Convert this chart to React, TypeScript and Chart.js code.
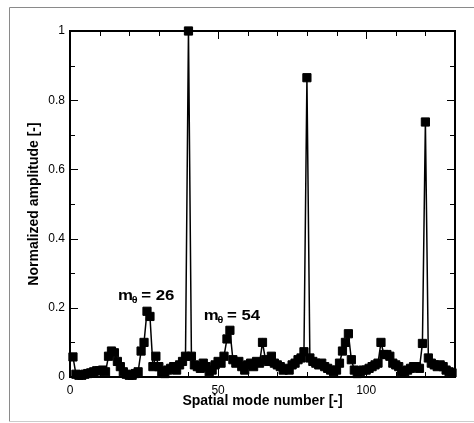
import React, { useEffect, useRef } from 'react';
import { Chart, registerables } from 'chart.js';

Chart.register(...registerables);

// Spatial mode numbers 1..129
const modes: number[] = Array.from({ length: 129 }, (_, i) => i + 1);

// Normalized amplitude for each mode
const amplitudes: number[] = [
  0.058, 0.008, 0.005, 0.005, 0.008, 0.010, 0.012, 0.015, 0.018, 0.018,
  0.020, 0.015, 0.060, 0.075, 0.070, 0.045, 0.030, 0.015, 0.008, 0.005,
  0.005, 0.010, 0.015, 0.075, 0.100, 0.190, 0.175, 0.030, 0.060, 0.030,
  0.015, 0.010, 0.020, 0.025, 0.030, 0.020, 0.035, 0.045, 0.060, 1.000,
  0.060, 0.035, 0.030, 0.025, 0.040, 0.030, 0.015, 0.020, 0.035, 0.045,
  0.040, 0.060, 0.110, 0.135, 0.050, 0.040, 0.045, 0.030, 0.020, 0.035,
  0.040, 0.030, 0.045, 0.040, 0.100, 0.050, 0.045, 0.060, 0.040, 0.035,
  0.030, 0.020, 0.025, 0.020, 0.035, 0.040, 0.050, 0.055, 0.073, 0.865,
  0.055, 0.045, 0.040, 0.035, 0.040, 0.030, 0.025, 0.020, 0.015, 0.020,
  0.040, 0.075, 0.100, 0.125, 0.050, 0.020, 0.010, 0.015, 0.020, 0.020,
  0.025, 0.030, 0.035, 0.040, 0.100, 0.065, 0.065, 0.060, 0.040, 0.035,
  0.030, 0.015, 0.015, 0.020, 0.025, 0.030, 0.030, 0.025, 0.097, 0.737,
  0.055, 0.040, 0.035, 0.030, 0.035, 0.030, 0.020, 0.015, 0.012,
];

const xMajorLabels: number[] = [0, 50, 100];
const yMajorLabels: string[] = ['0', '0.2', '0.4', '0.6', '0.8', '1'];

// Annotations anchored in data coordinates
const annotations: { x: number; y: number; text: string }[] = [
  { x: 16.2, y: 0.222, text: '26' },
  { x: 45.2, y: 0.165, text: '54' },
];

const FONT = "Arial, 'Liberation Sans', Helvetica, sans-serif";

const decorPlugin = {
  id: 'decor',
  beforeDraw(chart: any) {
    const ctx = chart.ctx;
    ctx.save();
    ctx.fillStyle = '#ffffff';
    ctx.fillRect(0, 0, chart.width, chart.height);
    ctx.lineWidth = 1;
    ctx.strokeStyle = '#8a8a8a';
    ctx.beginPath();
    ctx.moveTo(9.5, 421.5);
    ctx.lineTo(9.5, 7.5);
    ctx.lineTo(chart.width, 7.5);
    ctx.stroke();
    ctx.strokeStyle = '#cccccc';
    ctx.beginPath();
    ctx.moveTo(9.5, 421.5);
    ctx.lineTo(chart.width, 421.5);
    ctx.stroke();
    ctx.restore();
  },
  beforeDatasetsDraw(chart: any) {
    const ctx = chart.ctx;
    const { left, right, top, bottom } = chart.chartArea;
    const xs = chart.scales.x;
    const ys = chart.scales.y;
    ctx.save();
    ctx.strokeStyle = '#000';
    ctx.lineWidth = 1;
    ctx.beginPath();
    for (let v = 0; v <= 130; v += 10) {
      const px = Math.round(xs.getPixelForValue(v)) + 0.5;
      const len = v % 50 === 0 ? 8 : 5;
      ctx.moveTo(px, bottom);
      ctx.lineTo(px, bottom - len);
      ctx.moveTo(px, top);
      ctx.lineTo(px, top + len);
    }
    for (let i = 0; i <= 10; i++) {
      const py = Math.round(ys.getPixelForValue(i / 10)) + 0.5;
      const len = i % 2 === 0 ? 8 : 5;
      ctx.moveTo(left, py);
      ctx.lineTo(left + len, py);
      ctx.moveTo(right, py);
      ctx.lineTo(right - len, py);
    }
    ctx.stroke();
    ctx.lineWidth = 2;
    ctx.strokeRect(left, top, right - left, bottom - top);
    ctx.restore();
  },
  afterDraw(chart: any) {
    const ctx = chart.ctx;
    const xs = chart.scales.x;
    const ys = chart.scales.y;
    ctx.save();
    ctx.fillStyle = '#000';
    ctx.textBaseline = 'alphabetic';
    ctx.textAlign = 'left';
    for (const a of annotations) {
      const px0 = xs.getPixelForValue(a.x);
      const py = ys.getPixelForValue(a.y);
      ctx.save();
      ctx.translate(px0, py);
      ctx.scale(1.2, 1);
      let px = 0;
      ctx.font = `bold 14px ${FONT}`;
      ctx.fillText('m', px, 0);
      px += ctx.measureText('m').width;
      ctx.font = `bold 9px ${FONT}`;
      ctx.fillText('\u03B8', px - 1, 3);
      px += ctx.measureText('\u03B8').width + 2;
      ctx.font = `bold 14px ${FONT}`;
      ctx.fillText('= ' + a.text, px, 0);
      ctx.restore();
    }
    ctx.restore();
  },
};

export default function App() {
  const ref = useRef<HTMLCanvasElement | null>(null);
  useEffect(() => {
    if (!ref.current) return;
    const chart = new Chart(ref.current, {
      type: 'line',
      data: {
        labels: modes,
        datasets: [
          {
            data: modes.map((m, i) => ({ x: m, y: amplitudes[i] })),
            borderColor: '#000',
            backgroundColor: '#000',
            borderWidth: 1.5,
            pointStyle: 'rect',
            pointRadius: 5.8,
            pointBorderWidth: 1,
            pointBackgroundColor: '#000',
            pointBorderColor: '#000',
            tension: 0,
            clip: false as any,
          },
        ],
      },
      options: {
        animation: false,
        responsive: false,
        devicePixelRatio: 1,
        layout: { padding: { top: 31, right: 19, bottom: 0, left: 0 } },
        plugins: {
          legend: { display: false },
          tooltip: { enabled: false },
        },
        scales: {
          x: {
            type: 'linear',
            min: 0,
            max: 130,
            grid: { display: false, drawTicks: false },
            border: { display: false },
            ticks: {
              stepSize: 10,
              autoSkip: false,
              maxRotation: 0,
              padding: 6,
              color: '#000',
              font: { family: FONT, size: 12 },
              callback: (v: any) => (xMajorLabels.includes(Number(v)) ? String(v) : ''),
            },
            title: {
              display: true,
              text: 'Spatial mode number [-]',
              color: '#000',
              font: { family: FONT, size: 14, weight: 'bold' },
              padding: { top: 0, bottom: 13 },
            },
            afterFit: (s: any) => {
              s.height = 46;
            },
          },
          y: {
            type: 'linear',
            min: 0,
            max: 1,
            grid: { display: false, drawTicks: false },
            border: { display: false },
            ticks: {
              stepSize: 0.1,
              autoSkip: false,
              padding: 5,
              color: '#000',
              font: { family: FONT, size: 12 },
              callback: (v: any) => {
                const r = Math.round(Number(v) * 10);
                return r % 2 === 0 ? yMajorLabels[r / 2] : '';
              },
            },
            title: {
              display: true,
              text: 'Normalized amplitude [-]',
              color: '#000',
              font: { family: FONT, size: 14, weight: 'bold' },
              padding: { top: 26, bottom: 0 },
            },
            afterFit: (s: any) => {
              s.width = 70;
            },
          },
        },
      },
      plugins: [decorPlugin],
    });
    return () => chart.destroy();
  }, []);
  return (
    <div style={{ position: 'fixed', left: 0, top: 0, width: 474, height: 423 }}>
      <canvas ref={ref} width={474} height={423} style={{ display: 'block' }} />
    </div>
  );
}
